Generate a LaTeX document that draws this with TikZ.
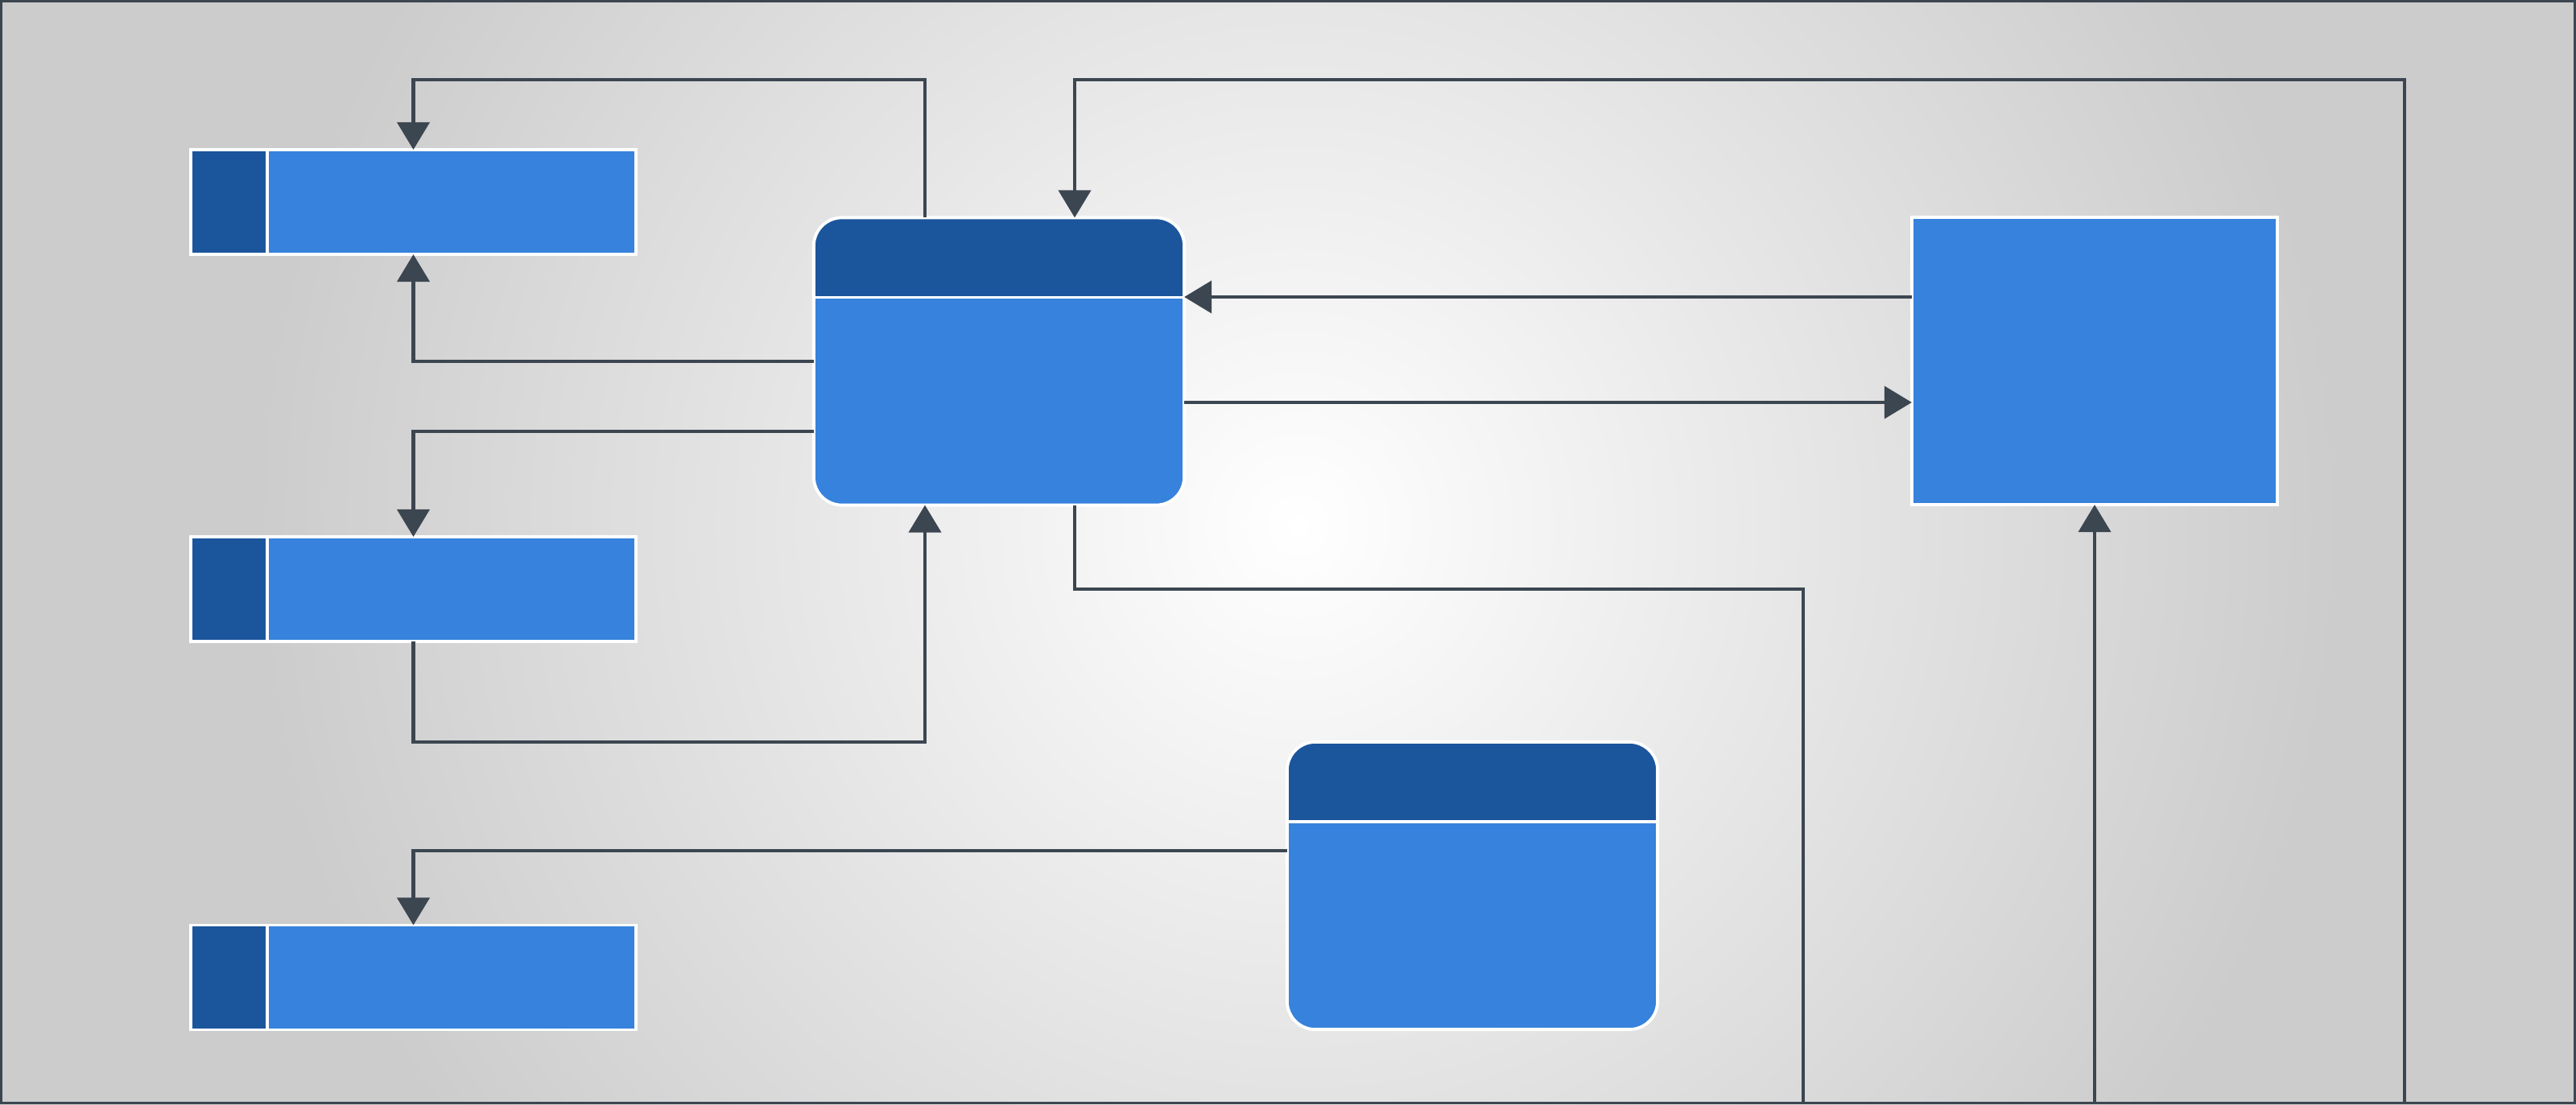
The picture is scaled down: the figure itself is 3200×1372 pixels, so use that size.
\documentclass[tikz,border=0pt]{standalone}
\usetikzlibrary{arrows.meta,calc}
\definecolor{darkb}{HTML}{1B559C}
\definecolor{lightb}{HTML}{3682DC}
\definecolor{linec}{HTML}{3C4651}
\definecolor{bggray}{HTML}{CCCCCC}
\pgfdeclareradialshading{bgshade}{\pgfpoint{0bp}{0bp}}{color(0bp)=(white); color(18bp)=(bggray); color(50bp)=(bggray)}
\tikzset{
  conn/.style={draw=linec, line width=1.15pt, -{Triangle[length=0.34cm,width=0.40cm]}},
  plain/.style={draw=linec, line width=1.15pt},
  sidebox/.style={draw=white, line width=1.1pt, fill=lightb, rectangle, inner sep=0pt, outer sep=0pt,
    minimum width=5.53cm, minimum height=1.30cm,
    path picture={\fill[darkb, sharp corners] (path picture bounding box.north west) rectangle ([xshift=0.95cm]path picture bounding box.south west);
      \draw[white, line width=1.1pt] ([xshift=0.95cm]path picture bounding box.north west) -- ([xshift=0.95cm]path picture bounding box.south west);}},
  hdrnode/.style={draw=white, line width=1.1pt, fill=lightb, rectangle, rounded corners=0.35cm, inner sep=0pt, outer sep=0pt,
    minimum width=4.60cm, minimum height=3.57cm,
    path picture={\fill[darkb, sharp corners] (path picture bounding box.north west) rectangle ([yshift=-0.99cm]path picture bounding box.north east);
      \draw[white, line width=1.1pt, sharp corners] ([yshift=-0.99cm]path picture bounding box.north west) -- ([yshift=-0.99cm]path picture bounding box.north east);}},
  plainbox/.style={draw=white, line width=1.1pt, fill=lightb, rectangle, inner sep=0pt, outer sep=0pt,
    minimum width=4.54cm, minimum height=3.57cm},
}
\begin{document}
\begin{tikzpicture}[x=0.01cm, y=-0.01cm]
\useasboundingbox (0,0) rectangle (3200,1372);
% background
\fill[bggray] (0,0) rectangle (3200,1372);
\begin{scope}
  \clip (0,0) rectangle (3200,1372);
  \shade[shading=bgshade] (1612,653) circle (1800);
\end{scope}
% nodes
\node[sidebox] (b1) at (513.5,251) {};
\node[sidebox] (b2) at (513.5,732) {};
\node[sidebox] (b3) at (513.5,1214.5) {};
\node[hdrnode] (m) at (1241,449) {};
\node[hdrnode] (t) at (1829,1100.5) {};
\node[plainbox] (r) at (2602,448.5) {};
% helper coordinates
\coordinate (c1) at (1149,99);
\coordinate (c2) at (2987,99);
\coordinate (e2) at (2987,1372);
\coordinate (xm) at (1335,0);
\coordinate (c3) at (1149,922);
\coordinate (c8) at (2240,732);
\coordinate (e8) at (2240,1372);
\coordinate (e9) at (2602,1372);
\coordinate (a6) at ($(m.east)+(0,51)$);
\coordinate (a7) at (r.west |- 0,369);
\coordinate (a10) at (t.west |- 0,1057);
\coordinate (a4) at (m.west |- 0,536);
% connectors
\draw[conn] (m.north -| c1) -- (c1) -| (b1.north);
\draw[conn] (e2) -- (c2) -| (xm |- m.north);
\draw[conn] (m.west) -| (b1.south);
\draw[conn] (a4) -| (b2.north);
\draw[conn] (b2.south) |- (c3) -- (m.south -| c3);
\draw[conn] (a6) -- (a6 -| r.west);
\draw[conn] (a7) -- (a7 -| m.east);
\draw[plain] (xm |- m.south) |- (c8) -- (e8);
\draw[conn] (e9) -- (r.south);
\draw[conn] (a10) -| (b3.north);
% frame
\draw[linec, line width=0.85pt] (1.5,1.5) rectangle (3198.5,1370.5);
\end{tikzpicture}
\end{document}
